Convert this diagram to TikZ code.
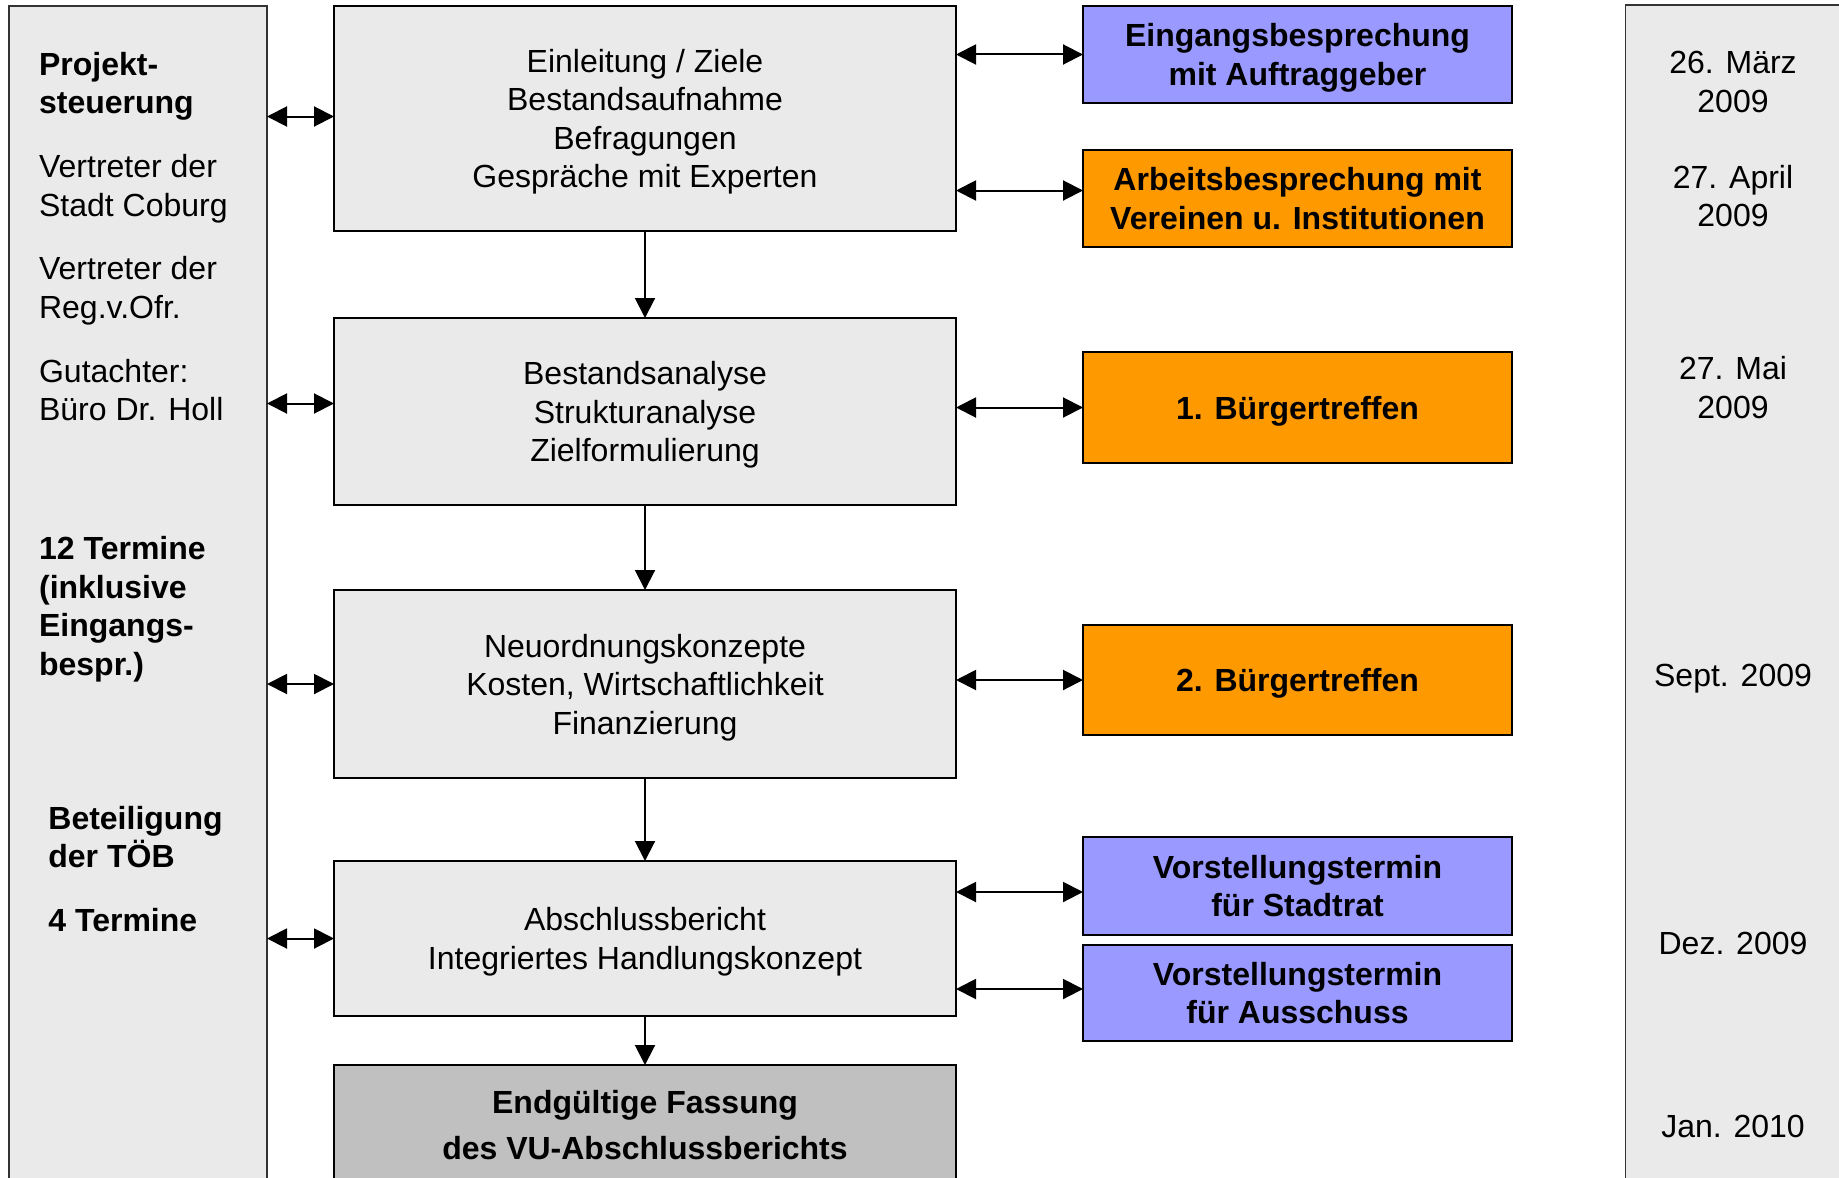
\documentclass[tikz,border=0pt]{standalone}
\usepackage{fontspec}
\setmainfont{Liberation Sans}
\usetikzlibrary{positioning,arrows.meta}

\definecolor{lila}{RGB}{153,153,255}
\definecolor{orang}{RGB}{255,153,0}
\definecolor{hell}{RGB}{234,234,234}
\definecolor{mittel}{RGB}{192,192,192}

\begin{document}
\begin{tikzpicture}[x=1pt, y=-1pt, font=\fontsize{16}{19.3}\selectfont, >={Triangle[length=10pt, width=10pt]},
		k/.style={rectangle, draw, line width=.8pt, fill=hell, minimum width=311pt, inner sep=0pt, outer sep=0pt, align=center, text depth=-.6pt},
		e/.style={rectangle, draw, line width=.8pt, minimum width=214.5pt, inner sep=0pt, outer sep=0pt, align=center, font=\fontsize{16}{19.3}\selectfont\bfseries, text depth=-.6pt},
		o/.style={fill=orang}, l/.style={fill=lila},
		p/.style={rectangle, draw=black!80, line width=.8pt, fill=hell, minimum height=600pt, inner sep=0pt, outer sep=0pt, anchor=north west},
		t/.style={anchor=west, inner sep=0pt, align=left},
		tb/.style={t, font=\fontsize{16}{19.3}\selectfont\bfseries},
		d/.style={inner sep=0pt, align=center},
		s/.style={line width=1pt}]
		\path[use as bounding box] (0,0) rectangle (919.5,588.5);
		\clip (0,0) rectangle (919.5,588.5);

		\node[p, minimum width=129pt] (Steuer) at (4.5,3) {};
		\node[p, minimum width=200pt] (Zeit) at (812.8,2.5) {};

		\node[k, minimum height=112.5pt, text depth=-1.2pt] (Einl) at (322.5,59.25) {Einleitung / Ziele\\Bestandsaufnahme\\Befragungen\\Gespräche mit Experten};
		\node[k, minimum height=93.5pt, below=43.5pt of Einl] (Analyse) {Bestandsanalyse\\Strukturanalyse\\Zielformulierung};
		\node[k, minimum height=94pt, below=42.5pt of Analyse] (Konzept) {Neuordnungskonzepte\\Kosten, Wirtschaftlichkeit\\Finanzierung};
		\node[k, minimum height=77.5pt, below=41.5pt of Konzept] (Bericht) {Abschlussbericht\\Integriertes Handlungskonzept};
		\node[k, fill=mittel, minimum height=60pt, below=24.5pt of Bericht, font=\fontsize{16}{23}\selectfont\bfseries, text depth={}] (Fassung) {Endgültige Fassung\\des VU-Abschlussberichts};

		\node[e, l, minimum height=48.5pt, text depth=-1.2pt] (Eingang) at (648.75,27.25) {Eingangsbesprechung\\mit Auftraggeber};
		\node[e, o, minimum height=48.5pt, text depth=-2.3pt] (Arbeit) at (648.75,99.25) {Arbeitsbesprechung mit\\Vereinen u. Institutionen};
		\node[e, o, minimum height=55.5pt] (BT1) at (648.75,203.75) {1. Bürgertreffen};
		\node[e, o, minimum height=55pt] (BT2) at (648.75,340) {2. Bürgertreffen};
		\node[e, l, minimum height=49pt, text depth=-1pt] (VStadt) at (648.75,443) {Vorstellungstermin\\für Stadtrat};
		\node[e, l, minimum height=48pt, text depth=-1pt] (VAussch) at (648.75,496.5) {Vorstellungstermin\\für Ausschuss};

		\node[tb] (Proj) at (19.35,43.1) {Projekt-\\steuerung};
		\node[t] (Stadt) at (19.35,94.4) {Vertreter der\\Stadt Coburg};
		\node[t] (Reg) at (19.35,145.4) {Vertreter der\\Reg.v.Ofr.};
		\node[t] (Gut) at (19.35,195) {Gutachter:\\Büro Dr. Holl};
		\node[tb] (Zwoelf) at (19.35,304.7) {12 Termine\\(inklusive\\Eingangs-\\bespr.)};
		\node[tb] (Toeb) at (24,418.5) {Beteiligung\\der TÖB};
		\node[tb] (Vier) at (24,459.8) {4 Termine};

		\node[d] (D1) at (866.5,41) {26. März\\2009};
		\node[d] (D2) at (866.5,98) {27. April\\2009};
		\node[d] (D3) at (866.5,193.8) {27. Mai\\2009};
		\node[d] (D4) at (866.5,339.5) {Sept. 2009};
		\node[d] (D5) at (866.5,471.5) {Dez. 2009};
		\node[d] (D6) at (866.5,563) {Jan. 2010};

		\coordinate (e1) at ([yshift=1pt]Einl.west);
		\coordinate (a1) at ([yshift=4pt]Analyse.west);
		\coordinate (a2) at ([yshift=4pt]Arbeit.west);
		\coordinate (v1) at ([yshift=-3pt]VStadt.west);
		\coordinate (v2) at ([yshift=2pt]VAussch.west);


		\path[<->, s] (Steuer.east |- e1) edge (e1);
		\path[<->, s] (Steuer.east |- a1) edge (a1);
		\path[<->, s] (Steuer.east |- Konzept.west) edge (Konzept.west);
		\path[<->, s] (Steuer.east |- Bericht.west) edge (Bericht.west);

		\path[<->, s] (Einl.east |- Eingang.west) edge (Eingang.west);
		\path[<->, s] (Einl.east |- a2) edge (a2);
		\path[<->, s] (Analyse.east |- BT1.west) edge (BT1.west);
		\path[<->, s] (Konzept.east |- BT2.west) edge (BT2.west);
		\path[<->, s] (Bericht.east |- v1) edge (v1);
		\path[<->, s] (Bericht.east |- v2) edge (v2);

		\path[->, s] (Einl) edge (Analyse);
		\path[->, s] (Analyse) edge (Konzept);
		\path[->, s] (Konzept) edge (Bericht);
		\path[->, s] (Bericht) edge (Fassung);
	\end{tikzpicture}
\end{document}
